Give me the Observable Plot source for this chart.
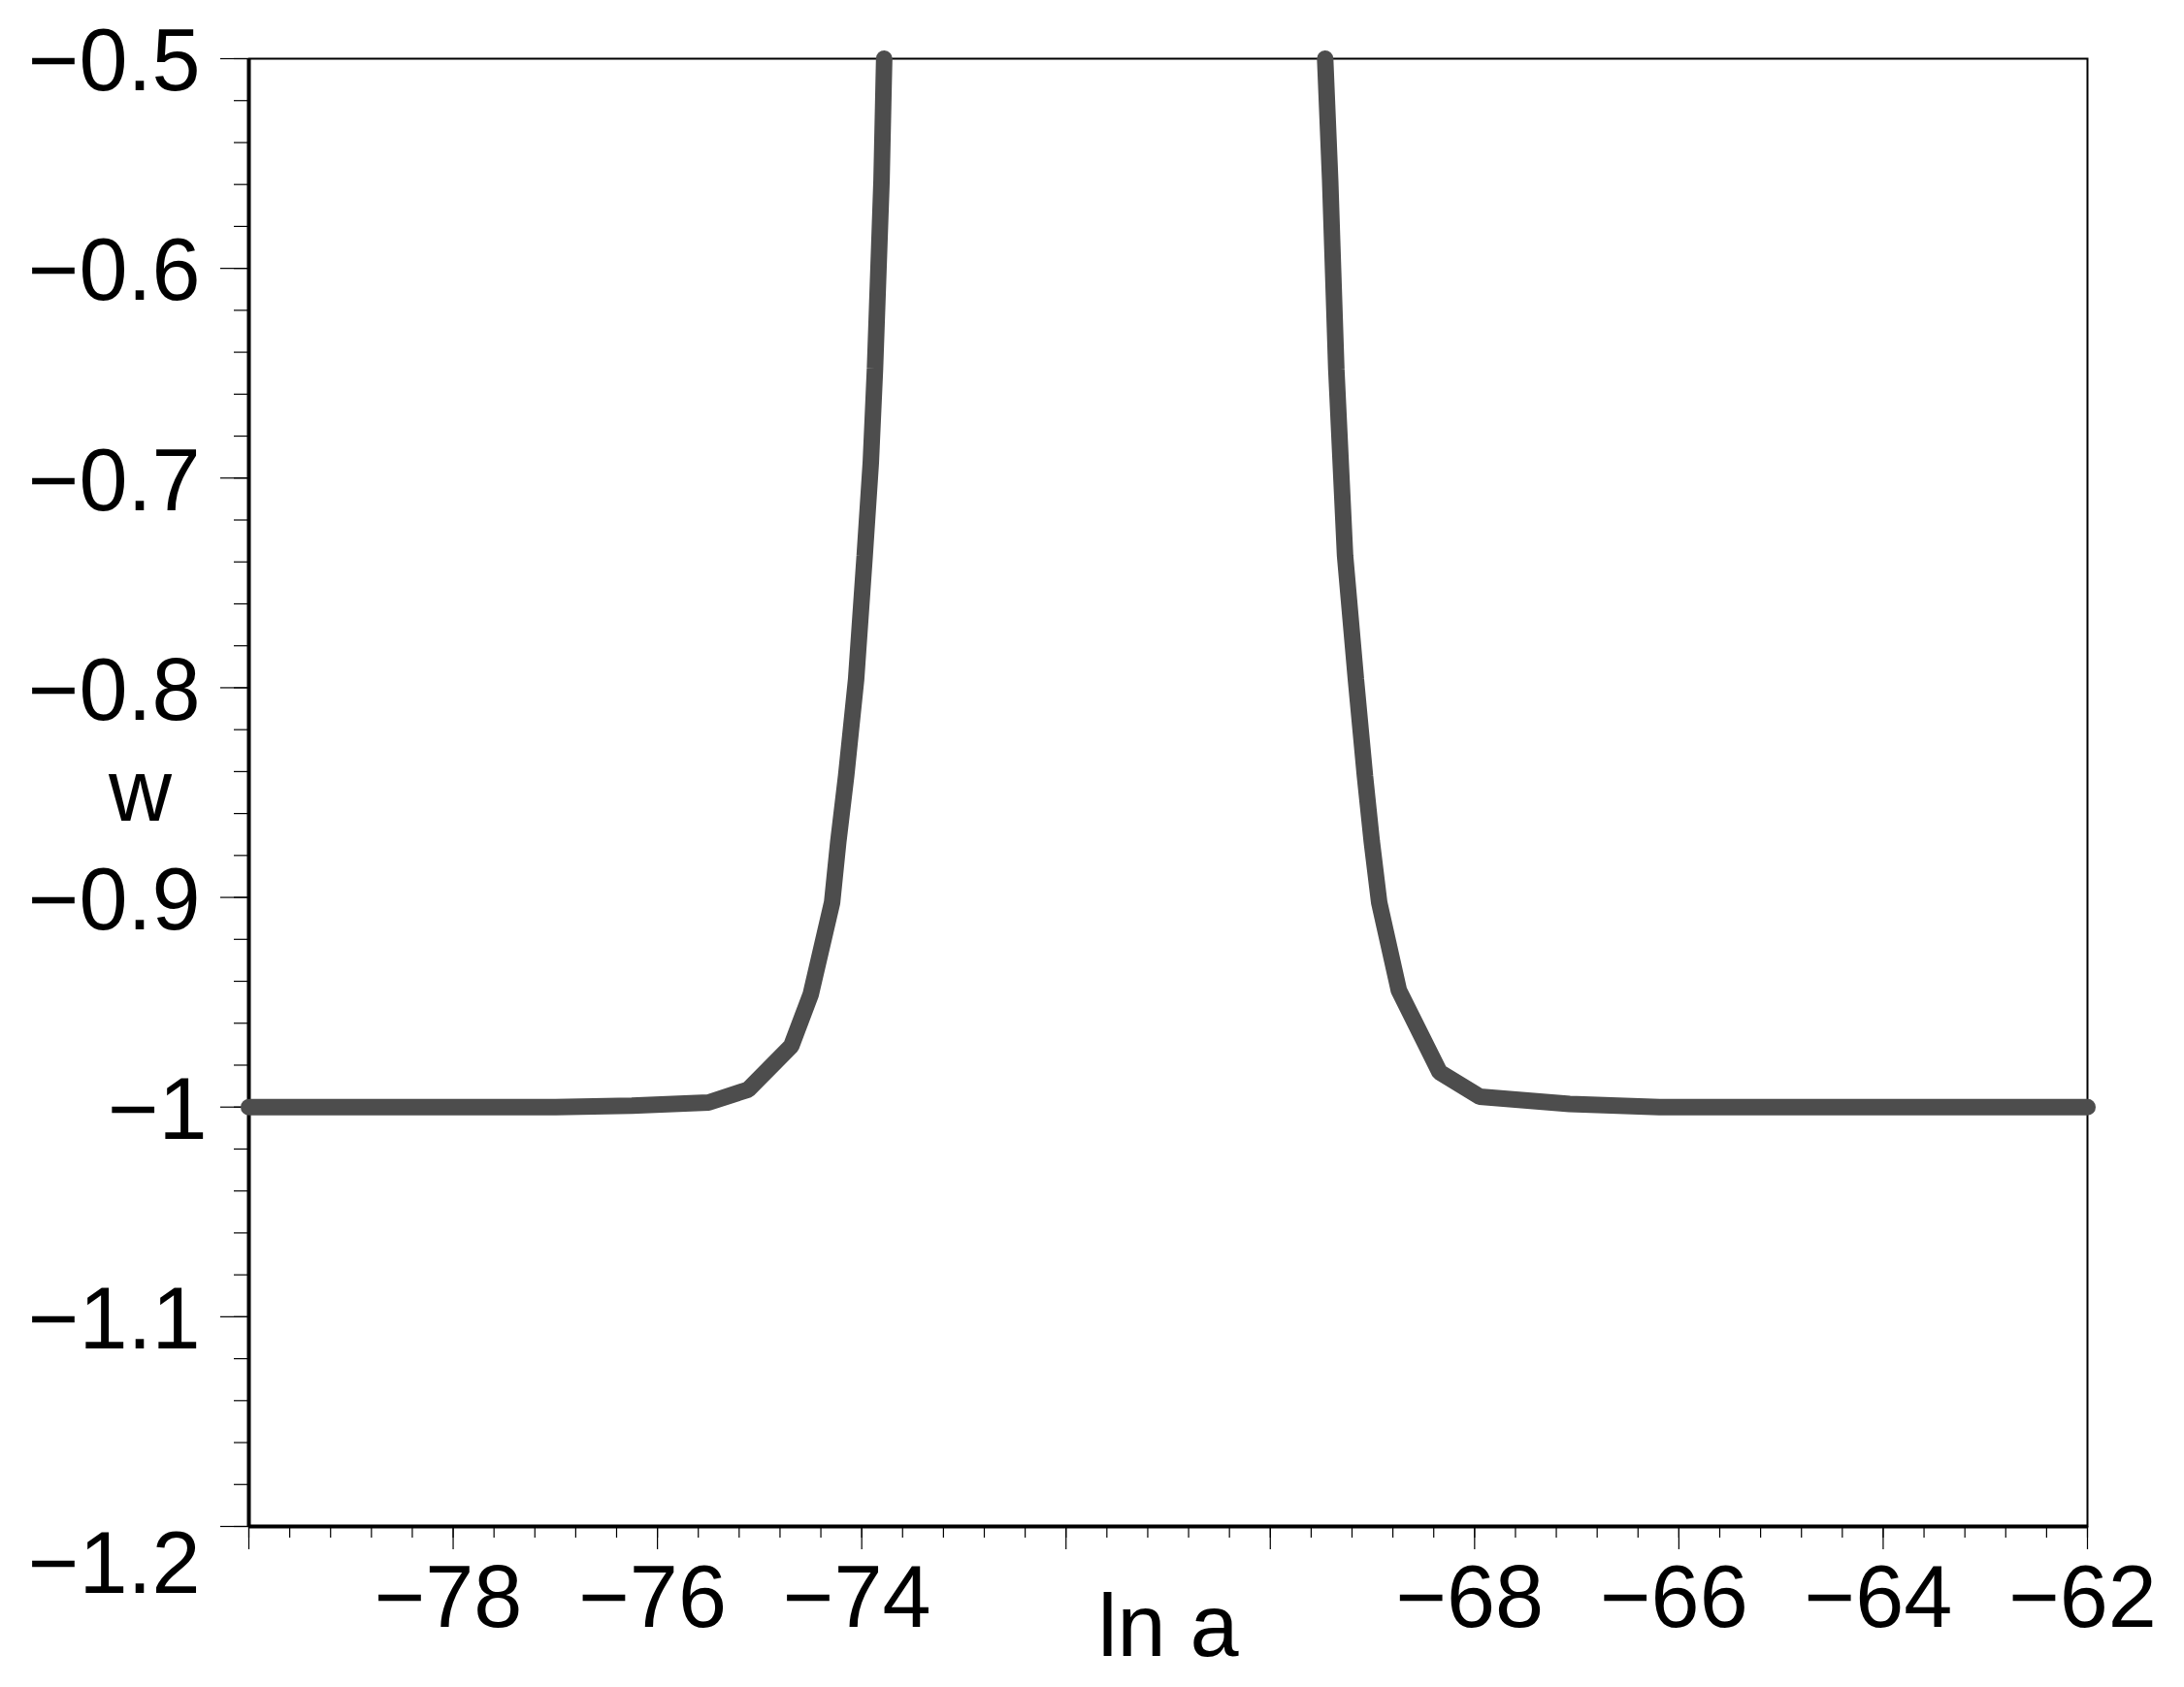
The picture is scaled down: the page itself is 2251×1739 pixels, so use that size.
<!DOCTYPE html>
<html>
<head>
<meta charset="utf-8">
<script src="https://cdn.jsdelivr.net/npm/d3@7"></script>
<script src="https://cdn.jsdelivr.net/npm/@observablehq/plot@0.6"></script>
<style>
  html, body { margin: 0; padding: 0; background: #ffffff; }
  #chart svg { display: block; }
</style>
</head>
<body>
<div id="chart"></div>
<script>
// ---- data ----
const lnaLeft  = [-80, -78, -77, -76.25, -75.5, -75.11, -74.69, -74.5, -74.29, -74.229, -74.153, -74.055, -73.971, -73.911, -73.870, -73.806, -73.786, -73.78];
const wLeft    = [-1, -1, -1, -0.9993, -0.9978, -0.9916, -0.9709, -0.9464, -0.9024, -0.8732, -0.8423, -0.796, -0.737, -0.6925, -0.6476, -0.558, -0.513, -0.5];
const lnaRight = [-69.463, -69.414, -69.354, -69.268, -69.162, -69.073, -69.007, -68.934, -68.741, -68.342, -67.95, -67.07, -66.19, -64, -62];
const wRight   = [-0.5, -0.558, -0.648, -0.737, -0.796, -0.8423, -0.8732, -0.9024, -0.9444, -0.9834, -0.995, -0.9985, -1, -1, -1];

const xMajorTicks = [-80, -78, -76, -74, -72, -70, -68, -66, -64, -62];
const xLabelTicks = [-78, -76, -74, -68, -66, -64, -62];
const yLabelTicks = [-1.1, -0.9, -0.8, -0.7, -0.6, -0.5];
const yOneLabel = [-1];
const yBottomLabel = [-1.2];
const yMajorTicks = [-1.2, -1.1, -1, -0.9, -0.8, -0.7, -0.6, -0.5];
const xMinorTicks = d3.range(0, 46).map(i => +(-80 + i * 0.4).toFixed(2));
const yMinorTicks = d3.range(0, 36).map(i => +(-1.2 + i * 0.02).toFixed(3));

const points = [
  ...lnaLeft.map((x, i) => ({lna: x, w: wLeft[i], branch: "left"})),
  ...lnaRight.map((x, i) => ({lna: x, w: wRight[i], branch: "right"}))
];

const fmt = d => String(d).replace("-", "\u2212");
const FONT = 90;

const chart = Plot.plot({
  width: 2251,
  height: 1739,
  marginLeft: 256,
  marginRight: 100,
  marginTop: 60,
  marginBottom: 166,
  style: {fontFamily: "'Liberation Sans', Arial, sans-serif", background: "#ffffff", color: "#000"},
  x: {domain: [-80, -62]},
  y: {domain: [-1.2, -0.5]},
  marks: [
    // minor & major ticks
    Plot.axisX({ticks: xMinorTicks, tickSize: 12, fill: "none", strokeWidth: 1.2}),
    Plot.axisX({ticks: xMajorTicks, tickSize: 24, fill: "none", strokeWidth: 1.2}),
    Plot.axisY({ticks: yMinorTicks, tickSize: 15, fill: "none", strokeWidth: 1.2}),
    Plot.axisY({ticks: yMajorTicks, tickSize: 29, fill: "none", strokeWidth: 1.2}),
    // tick labels
    Plot.axisX({ticks: xLabelTicks, tickSize: 0, tickPadding: 40, tickFormat: fmt, fontSize: FONT, dx: -5, label: null}),
    Plot.axisY({ticks: yLabelTicks, tickSize: 0, tickPadding: 50, tickFormat: fmt, fontSize: FONT, dy: 4, label: null}),
    Plot.axisY({ticks: yOneLabel, tickSize: 0, tickPadding: 50, tickFormat: fmt, fontSize: FONT, dy: 4, dx: 7, label: null}),
    Plot.axisY({ticks: yBottomLabel, tickSize: 0, tickPadding: 50, tickFormat: fmt, fontSize: FONT, dy: 40, label: null}),
    // frame
    Plot.frame({stroke: "#000", strokeWidth: 2}),
    Plot.ruleX([-80], {stroke: "#000", strokeWidth: 4}),
    Plot.ruleY([-1.2], {stroke: "#000", strokeWidth: 4}),
    // curve
    Plot.line(points, {
      x: "lna", y: "w", z: "branch",
      stroke: "#4d4d4d", strokeWidth: 17,
      strokeLinecap: "round", strokeLinejoin: "miter", curve: "linear"
    }),
    // axis titles
    Plot.text(["w"], {frameAnchor: "left", dx: -112, textAnchor: "middle", lineAnchor: "middle", fontSize: FONT, fill: "#000"}),
    Plot.text(["ln a"], {frameAnchor: "bottom", dy: 133, textAnchor: "middle", lineAnchor: "bottom", fontSize: FONT, fill: "#000"})
  ]
});

document.getElementById("chart").appendChild(chart);
</script>
</body>
</html>
